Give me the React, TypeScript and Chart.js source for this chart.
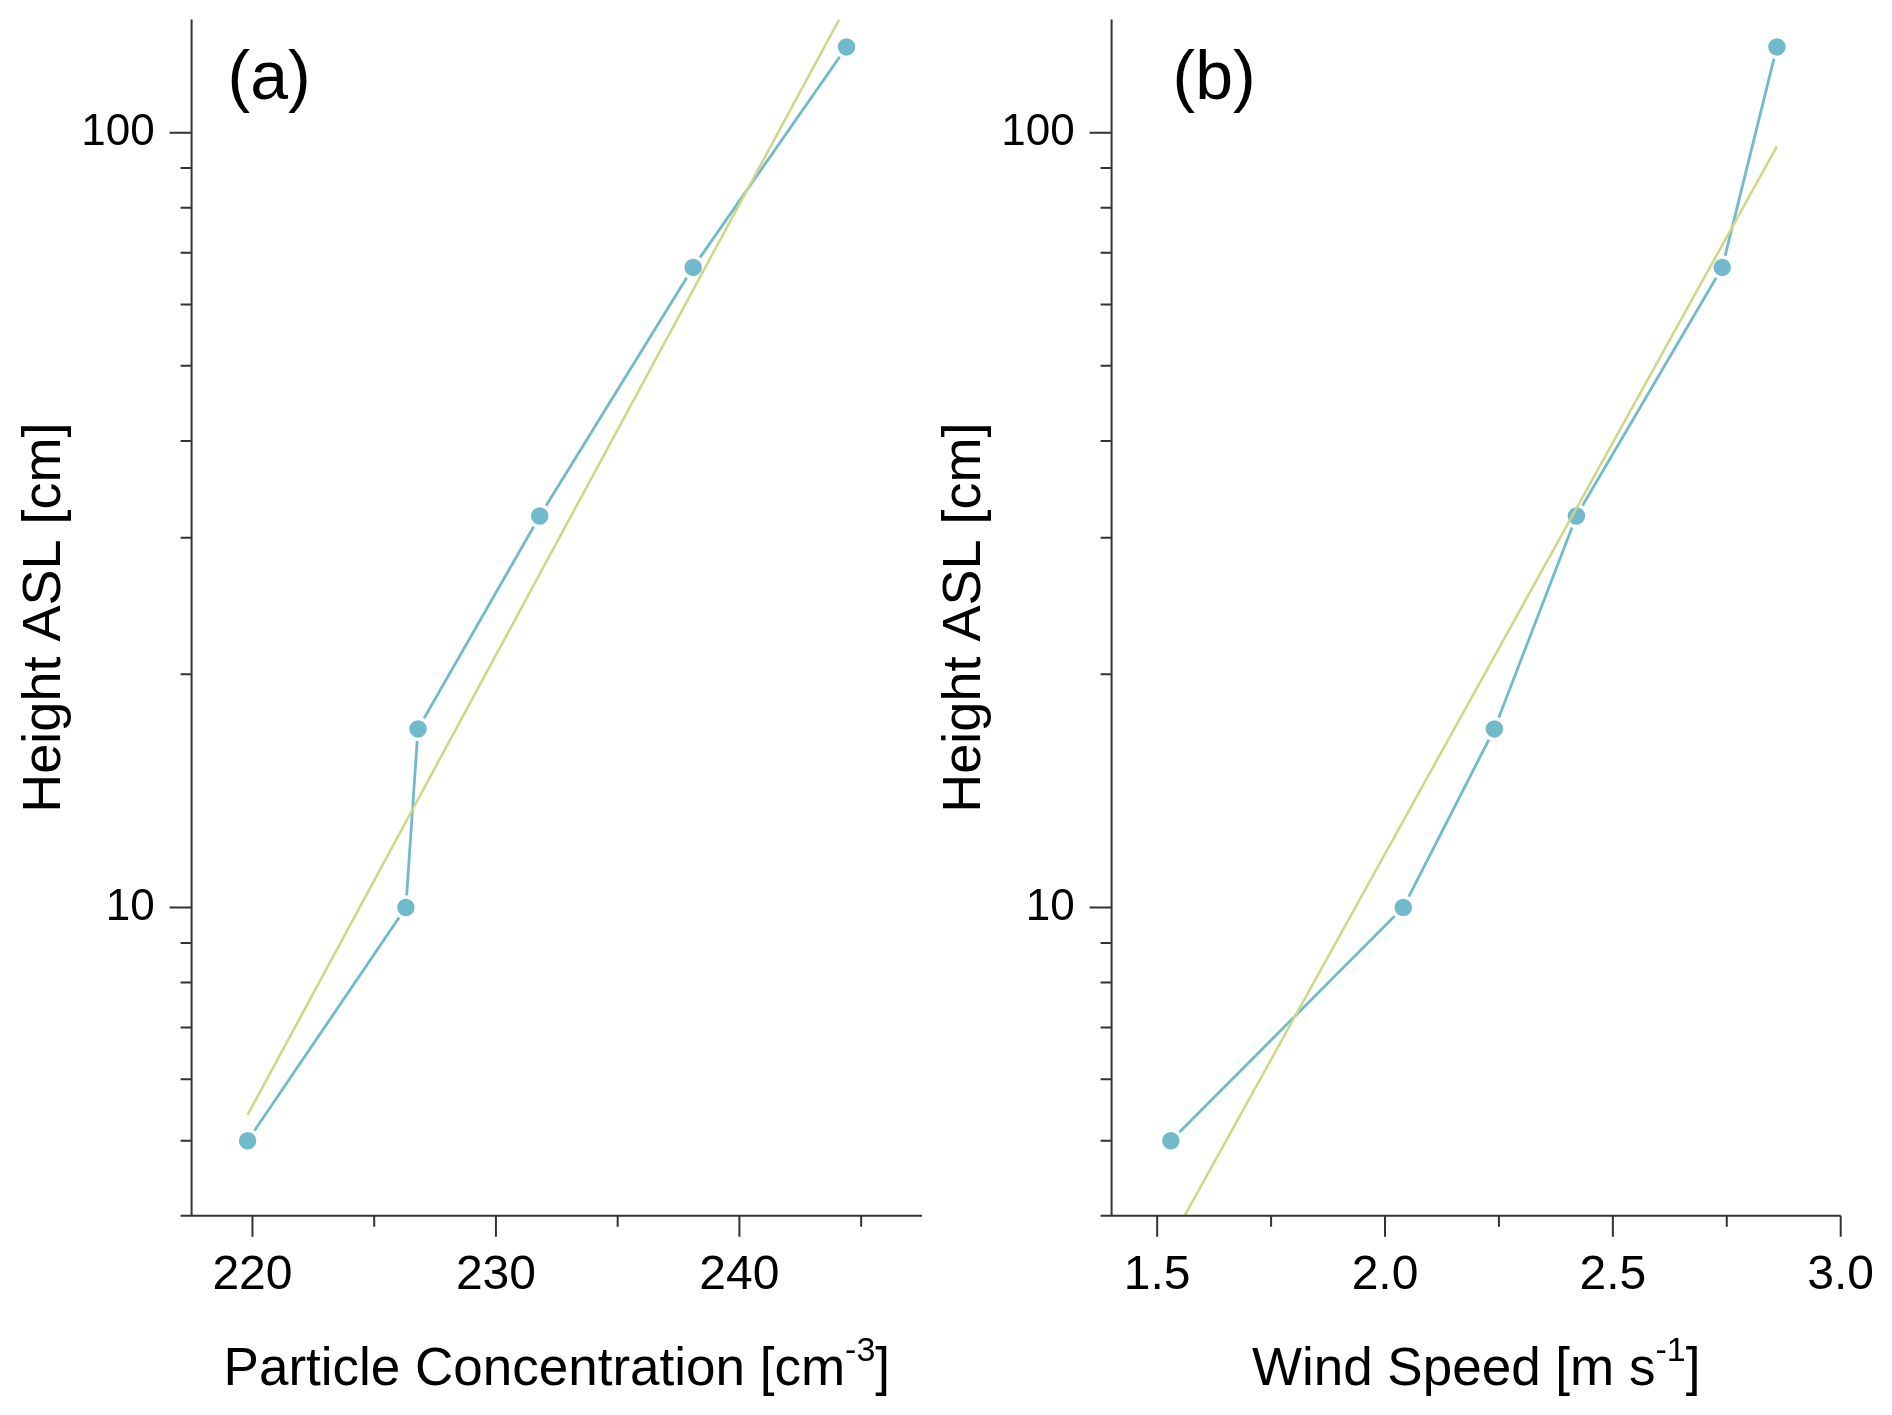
import React, { useEffect, useRef } from "react";
import { Chart, registerables } from "chart.js";

Chart.register(...registerables);

// measured heights (cm) shared by both profiles
const heights = [5, 10, 17, 32, 67, 129];
// panel (a): particle concentration at each height
const particleConc = [219.8, 226.3, 226.8, 231.8, 238.1, 244.4];
// panel (b): wind speed at each height
const windSpeed = [1.53, 2.04, 2.24, 2.42, 2.74, 2.86];

// fitted log profiles: end points of the straight fit line
const particleFitX = [219.8, 244.1];
const particleFitY = [5.4, 140];
const windFitX = [1.56, 2.86];
const windFitY = [4, 96];

// tick values
const yMajorTicks = [10, 100];
const yMinorTicks = [5, 6, 7, 8, 9, 20, 30, 40, 50, 60, 70, 80, 90];
const particleMajorTicks = [220, 230, 240];
const particleMinorTicks = [225, 235, 245];
const windMajorTicks = [1.5, 2.0, 2.5, 3.0];
const windMinorTicks = [1.75, 2.25, 2.75];

const FONT = "'Liberation Sans', Arial, Helvetica, sans-serif";
const DATA_COLOR = "#70BACB";
const FIT_COLOR = "#CFD687";
const AXIS_COLOR = "#333333";

Chart.defaults.font.family = FONT;
Chart.defaults.color = "#000";

// draws axis lines, tick marks, the x title (with superscript) and panel letter
const panelDecor = {
  id: "panelDecor",
  afterDraw(chart: any, _args: any, opts: any) {
    const { ctx, chartArea: area, scales } = chart;
    const xs = scales.x;
    const ys = scales.y;
    ctx.save();
    ctx.strokeStyle = AXIS_COLOR;
    ctx.lineWidth = 2;
    ctx.beginPath();
    ctx.moveTo(area.left, area.top);
    ctx.lineTo(area.left, area.bottom);
    ctx.moveTo(area.left - 11, area.bottom);
    ctx.lineTo(area.right, area.bottom);
    yMajorTicks.forEach((v) => {
      const p = ys.getPixelForValue(v);
      ctx.moveTo(area.left - 22, p);
      ctx.lineTo(area.left, p);
    });
    yMinorTicks.forEach((v) => {
      const p = ys.getPixelForValue(v);
      ctx.moveTo(area.left - 11, p);
      ctx.lineTo(area.left, p);
    });
    opts.xMajor.forEach((v: number) => {
      const p = xs.getPixelForValue(v);
      ctx.moveTo(p, area.bottom);
      ctx.lineTo(p, area.bottom + 21);
    });
    opts.xMinor.forEach((v: number) => {
      const p = xs.getPixelForValue(v);
      ctx.moveTo(p, area.bottom);
      ctx.lineTo(p, area.bottom + 11);
    });
    ctx.stroke();

    // x axis title with superscript unit
    const mainFont = `53px ${FONT}`;
    const supFont = `34px ${FONT}`;
    ctx.fillStyle = "#000";
    ctx.textBaseline = "alphabetic";
    ctx.textAlign = "left";
    ctx.font = mainFont;
    const w1 = ctx.measureText(opts.xTitle).width;
    const w3 = ctx.measureText("]").width;
    ctx.font = supFont;
    const w2 = ctx.measureText(opts.xSup).width;
    let tx = (area.left + area.right) / 2 - (w1 + w2 + w3) / 2;
    const base = area.bottom + 169;
    ctx.font = mainFont;
    ctx.fillText(opts.xTitle, tx, base);
    tx += w1;
    ctx.font = supFont;
    ctx.fillText(opts.xSup, tx, base - 24);
    tx += w2;
    ctx.font = mainFont;
    ctx.fillText("]", tx, base);

    // panel letter
    ctx.font = `68px ${FONT}`;
    ctx.fillText(opts.label, area.left + opts.labelDx, area.top + 80);
    ctx.restore();
  },
};

type PanelSpec = {
  left: number;
  width: number;
  xValues: number[];
  fitX: number[];
  fitY: number[];
  xMin: number;
  xMax: number;
  xMajor: number[];
  xMinor: number[];
  decimals: number;
  yAxisWidth: number;
  padRight: number;
  titlePad: number;
  label: string;
  labelDx: number;
  xTitle: string;
  xSup: string;
};

const panels: PanelSpec[] = [
  {
    left: 0,
    width: 940,
    xValues: particleConc,
    fitX: particleFitX,
    fitY: particleFitY,
    xMin: 217.5,
    xMax: 247.5,
    xMajor: particleMajorTicks,
    xMinor: particleMinorTicks,
    decimals: 0,
    yAxisWidth: 191.6,
    padRight: 18,
    titlePad: 13,
    label: "(a)",
    labelDx: 36,
    xTitle: "Particle Concentration [cm",
    xSup: "-3",
  },
  {
    left: 910,
    width: 982,
    xValues: windSpeed,
    fitX: windFitX,
    fitY: windFitY,
    xMin: 1.4,
    xMax: 3.0,
    xMajor: windMajorTicks,
    xMinor: windMinorTicks,
    decimals: 1,
    yAxisWidth: 201.6,
    padRight: 51.3,
    titlePad: 23,
    label: "(b)",
    labelDx: 61,
    xTitle: "Wind Speed [m s",
    xSup: "-1",
  },
];

function ProfilePanel({ spec }: { spec: PanelSpec }) {
  const canvasRef = useRef<HTMLCanvasElement | null>(null);
  const chartRef = useRef<Chart | null>(null);

  useEffect(() => {
    if (!canvasRef.current) return;
    const ctx = canvasRef.current.getContext("2d");
    if (!ctx) return;
    if (chartRef.current) chartRef.current.destroy();

    chartRef.current = new Chart(ctx, {
      type: "line",
      data: {
        datasets: [
          {
            label: "fit",
            data: spec.fitX.map((x, i) => ({ x, y: spec.fitY[i] })),
            borderColor: FIT_COLOR,
            borderWidth: 2.5,
            pointRadius: 0,
            tension: 0,
            order: 0,
          },
          {
            label: "measured",
            data: spec.xValues.map((x, i) => ({ x, y: heights[i] })),
            borderColor: DATA_COLOR,
            borderWidth: 2.8,
            backgroundColor: DATA_COLOR,
            pointRadius: 10.5,
            pointBackgroundColor: DATA_COLOR,
            pointBorderColor: "#ffffff",
            pointBorderWidth: 3.5,
            tension: 0,
            order: 1,
          },
        ],
      },
      options: {
        responsive: true,
        maintainAspectRatio: false,
        animation: false,
        events: [],
        layout: {
          autoPadding: false,
          padding: { top: 19.4, right: spec.padRight, bottom: 0, left: 0 },
        },
        plugins: {
          legend: { display: false },
          tooltip: { enabled: false },
          panelDecor: {
            label: spec.label,
            labelDx: spec.labelDx,
            xTitle: spec.xTitle,
            xSup: spec.xSup,
            xMajor: spec.xMajor,
            xMinor: spec.xMinor,
          },
        } as any,
        scales: {
          x: {
            type: "linear",
            min: spec.xMin,
            max: spec.xMax,
            grid: { display: false, drawTicks: false },
            border: { display: false },
            afterBuildTicks: (scale: any) => {
              scale.ticks = spec.xMajor.map((v) => ({ value: v }));
            },
            afterFit: (scale: any) => {
              scale.height = 199.2;
              scale.paddingLeft = 0;
              scale.paddingRight = 0;
            },
            ticks: {
              autoSkip: false,
              maxRotation: 0,
              padding: 31,
              font: { size: 48 },
              color: "#000",
              callback: (v: any) => Number(v).toFixed(spec.decimals),
            },
          },
          y: {
            type: "logarithmic",
            min: 4,
            max: 140,
            grid: { display: false, drawTicks: false },
            border: { display: false },
            afterBuildTicks: (scale: any) => {
              scale.ticks = yMajorTicks.map((v) => ({ value: v, major: true }));
            },
            afterFit: (scale: any) => {
              scale.width = spec.yAxisWidth;
              scale.paddingTop = 0;
              scale.paddingBottom = 0;
            },
            ticks: {
              autoSkip: false,
              padding: 37,
              font: { size: 44 },
              color: "#000",
              callback: (v: any) => String(v),
            },
            title: {
              display: true,
              text: "Height ASL [cm]",
              font: { size: 54 },
              color: "#000",
              padding: { top: spec.titlePad, bottom: 0 },
            },
          },
        },
      },
      plugins: [panelDecor],
    });

    return () => {
      if (chartRef.current) {
        chartRef.current.destroy();
        chartRef.current = null;
      }
    };
  }, [spec]);

  return (
    <div
      style={{
        position: "absolute",
        left: spec.left,
        top: 0,
        width: spec.width,
        height: 1415,
      }}
    >
      <canvas ref={canvasRef} />
    </div>
  );
}

export default function App() {
  return (
    <div
      style={{
        position: "absolute",
        left: 0,
        top: 0,
        width: 1892,
        height: 1415,
        background: "#ffffff",
        overflow: "hidden",
      }}
    >
      {panels.map((p) => (
        <ProfilePanel key={p.label} spec={p} />
      ))}
    </div>
  );
}
